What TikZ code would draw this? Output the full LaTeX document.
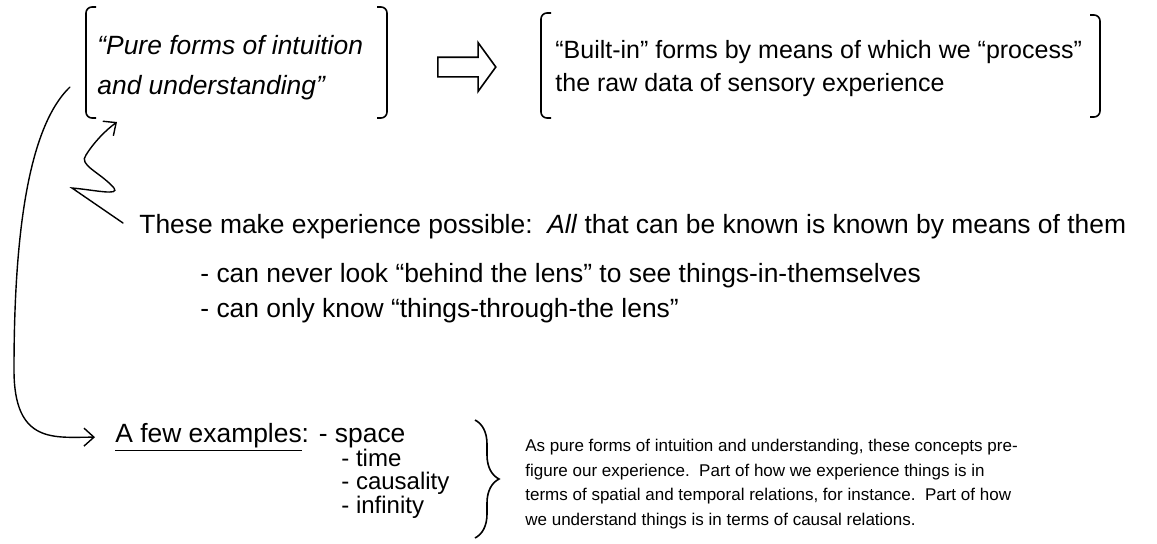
\documentclass[tikz,border=0pt]{standalone}
\usepackage{fontspec}
\setmainfont{Liberation Sans}
\usetikzlibrary{arrows.meta}
\usetikzlibrary{decorations.pathreplacing}
\usetikzlibrary{positioning, shapes}
\tikzset{
	txt/.style={
		anchor=base west,
		inner sep=0pt,
		font=\fontsize{13.2}{16}\selectfont
	},
	item/.style={
		txt,
		font=\fontsize{12}{14}\selectfont
	},
	small/.style={
		anchor=base west,
		inner sep=0pt,
		font=\fontsize{8.5}{12.5}\selectfont
	},
	bracket/.style={
		line width=0.8pt,
		rounded corners=3pt
	},
	hand/.style={
		line width=0.7pt,
		->,
		line cap=round
	}
}

\begin{document}
\begin{tikzpicture}[
		x=0.5pt, y=-0.5pt,
		>={Straight Barb[length=5pt,width=9pt]},
	]

	% The canvas, in pixels from the top left corner
	\useasboundingbox (0,0) rectangle (1157,543);

	% Draw the pure forms
	\node (pure1) [txt] at (97,54) {\itshape “Pure forms of intuition};
	\node (pure2) [txt] at (97,94) {\itshape and understanding”};

	\draw[bracket] (96,7) -- (86,7) -- (86,118) -- (96,118);
	\draw[bracket] (377,7) -- (387,7) -- (387,118) -- (377,118);

	% Draw the implication
	\node (implies) [single arrow, draw, line width=0.8pt, inner xsep=0pt, inner ysep=4.5pt,
		minimum height=29pt, minimum width=23.5pt, single arrow head extend=7.25pt,
		single arrow tip angle=108, anchor=west] at (437,67) {};

	% Draw the built-in forms
	\node (built1) [txt, font=\fontsize{12.5}{15}\selectfont] at (555,58)
		{“Built-in” forms by means of which we “process”};
	\node (built2) [txt, font=\fontsize{12.5}{15}\selectfont] at (555,91)
		{the raw data of sensory experience};

	\draw[bracket] (551,13) -- (541,13) -- (541,118) -- (551,118);
	\draw[bracket] (1090,15) -- (1100,15) -- (1100,117) -- (1090,117);

	% Draw the claims
	\node (these) [txt] at (139,233)
		{These make experience possible:\ \ \textit{All} that can be known is known by means of them};
	\node (never) [txt] at (200,282)
		{- can never look “behind the lens” to see things-in-themselves};
	\node (only) [txt] at (200,317)
		{- can only know “things-through-the lens”};

	% Draw the examples
	\node (few) [txt] at (115,442) {\underline{A few examples}: - space};
	\node (time) [item] at (341,466) {- time};
	\node (caus) [item] at (341,489) {- causality};
	\node (inf) [item] at (341,513) {- infinity};

	\draw[line width=0.8pt, decorate, decoration={brace, amplitude=12pt}]
		(475,420) -- (475,538);

	\node (para1) [small] at (525,451) {As pure forms of intuition and understanding, these concepts pre-};
	\node (para2) [small] at (525,476) {figure our experience.\ \ Part of how we experience things is in};
	\node (para3) [small] at (525,500) {terms of spatial and temporal relations, for instance.\ \ Part of how};
	\node (para4) [small] at (525,525) {we understand things is in terms of causal relations.};

	% Draw the hand-drawn arrows
	\coordinate (sq) at (123,223);
	\draw[hand] (sq) -- (72,188) .. controls (95,190) and (120,196) .. (114,188)
		.. controls (100,172) and (78,165) .. (86,155) .. controls (94,142) and (106,130) .. (117,122);

	\coordinate (loop) at (70,87);
	\draw[hand] (loop) .. controls (25,130) and (14,250) .. (14,370)
		.. controls (14,445) and (55,437) .. ([xshift=-10pt]few.west);

\end{tikzpicture}
\end{document}
